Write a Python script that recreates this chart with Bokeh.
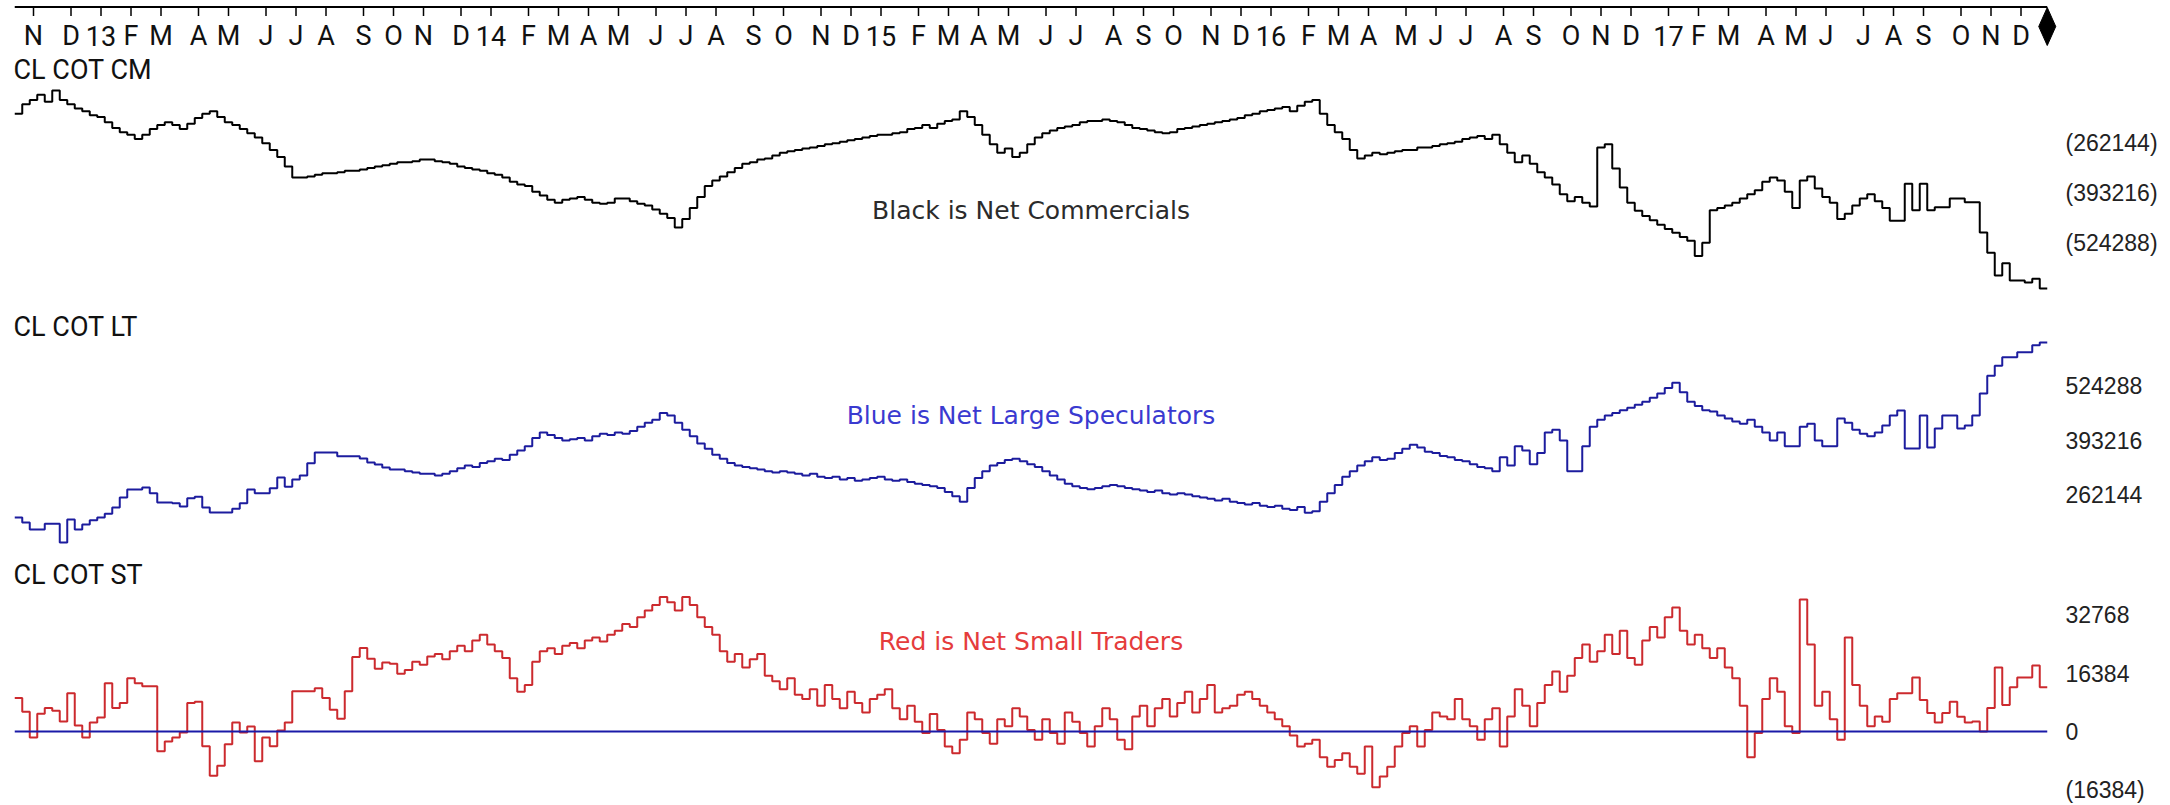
import numpy as np
import pandas as pd
from bokeh.plotting import figure
from bokeh.models import Range1d
from bokeh.core.properties import value
from bokeh.embed import file_html
from bokeh.resources import INLINE

# ---------------- data ----------------
first_week = "2012-10-19"          # weekly COT bars (Fridays)
n_weeks = 271

# net commercials, thousands of contracts
cm_net_k = [
    -187, -162, -151, -137, -155, -126, -151, -162, -173, -180,
    -191, -195, -209, -224, -235, -242, -253, -242, -227, -216,
    -209, -216, -227, -213, -198, -187, -180, -195, -209, -216,
    -227, -238, -249, -264, -282, -300, -325, -354, -354, -351,
    -347, -343, -343, -340, -336, -336, -333, -329, -325, -322,
    -318, -314, -314, -311, -307, -307, -311, -314, -318, -325,
    -329, -333, -336, -343, -347, -354, -365, -372, -376, -391,
    -401, -412, -420, -412, -409, -405, -412, -420, -423, -420,
    -409, -409, -416, -423, -427, -438, -449, -460, -485, -463,
    -434, -405, -376, -362, -351, -340, -329, -318, -314, -307,
    -304, -296, -289, -285, -282, -278, -275, -271, -267, -264,
    -260, -256, -253, -249, -245, -242, -242, -238, -235, -227,
    -224, -216, -224, -213, -206, -202, -180, -195, -216, -242,
    -267, -289, -278, -300, -289, -267, -249, -238, -231, -224,
    -220, -216, -209, -206, -206, -202, -206, -209, -216, -224,
    -227, -231, -235, -238, -235, -227, -224, -220, -216, -213,
    -209, -206, -202, -198, -191, -187, -180, -177, -173, -169,
    -180, -166, -155, -151, -187, -216, -235, -253, -282, -304,
    -296, -289, -293, -289, -285, -282, -282, -275, -275, -271,
    -267, -264, -260, -253, -249, -245, -253, -242, -267, -289,
    -314, -296, -318, -340, -354, -372, -398, -416, -405, -420,
    -430, -275, -267, -330, -380, -420, -441, -455, -466, -478,
    -489, -499, -510, -520, -560, -525, -440, -434, -427, -420,
    -409, -398, -387, -365, -354, -362, -391, -434, -362, -351,
    -383, -405, -420, -463, -449, -427, -409, -398, -416, -434,
    -467, -467, -370, -440, -370, -440, -432, -432, -409, -409,
    -419, -419, -498, -551, -611, -579, -624, -624, -629, -619, -645,
]

# net large speculators, thousands of contracts
lt_net_k = [
    207, 195, 178, 178, 192, 192, 147, 202, 178, 190,
    200, 207, 216, 231, 255, 274, 274, 279, 265, 243,
    243, 241, 233, 253, 257, 231, 219, 219, 219, 228,
    241, 274, 265, 265, 277, 303, 281, 298, 308, 337,
    363, 363, 363, 354, 354, 354, 349, 339, 334, 327,
    322, 322, 318, 315, 312, 312, 308, 312, 318, 325,
    332, 328, 338, 342, 348, 345, 358, 368, 378, 398,
    411, 405, 398, 392, 395, 398, 392, 402, 408, 405,
    411, 408, 415, 425, 435, 442, 458, 452, 435, 418,
    402, 385, 372, 358, 348, 338, 332, 328, 325, 322,
    318, 315, 318, 315, 312, 308, 312, 305, 302, 305,
    298, 302, 295, 298, 302, 305, 298, 295, 298, 292,
    288, 285, 282, 278, 268, 258, 245, 278, 302, 318,
    332, 338, 345, 348, 342, 335, 328, 318, 308, 298,
    288, 282, 278, 275, 278, 282, 285, 282, 278, 275,
    272, 268, 272, 265, 262, 265, 262, 258, 255, 252,
    248, 252, 245, 242, 238, 242, 235, 232, 235, 228,
    225, 232, 218, 222, 245, 265, 285, 305, 318, 332,
    342, 352, 345, 348, 362, 372, 382, 375, 365, 362,
    355, 352, 345, 342, 335, 328, 325, 318, 352, 332,
    378, 368, 335, 362, 411, 418, 392, 318, 318, 378,
    425, 442, 452, 458, 465, 471, 478, 485, 495, 505,
    518, 531, 508, 485, 475, 465, 462, 452, 445, 438,
    432, 442, 425, 411, 392, 411, 378, 378, 425, 432,
    392, 378, 378, 445, 435, 418, 408, 402, 411, 428,
    452, 464, 373, 373, 452, 375, 421, 452, 452, 421,
    428, 452, 505, 548, 572, 592, 592, 604, 604, 621, 628,
]

# net small traders, thousands of contracts
st_net_k = [
    9.4, 5.5, -1.7, 5.0, 6.6, 5.8, 2.8, 10.7, 1.7, -1.7,
    2.5, 3.9, 13.5, 6.6, 8.0, 14.9, 13.5, 12.7, 12.7, -5.5,
    -2.8, -1.7, -0.3, 8.0, 8.3, -4.1, -12.4, -9.6, -3.6, 2.5,
    -0.3, 1.4, -8.3, -1.7, -4.1, 0.3, 2.5, 11.3, 11.3, 11.3,
    12.1, 9.4, 6.1, 3.6, 11.3, 20.9, 23.4, 20.4, 17.6, 19.3,
    19.0, 16.2, 17.2, 19.5, 18.7, 21.0, 21.7, 20.2, 22.5, 24.0,
    22.5, 25.5, 27.1, 24.4, 22.5, 20.6, 14.9, 11.1, 13.0, 19.5,
    22.5, 23.3, 21.7, 24.0, 24.8, 23.3, 25.5, 26.3, 25.2, 27.1,
    28.2, 30.1, 29.3, 32.0, 33.9, 35.4, 37.7, 36.2, 33.9, 37.7,
    35.4, 32.0, 29.3, 27.1, 22.5, 19.5, 21.7, 17.9, 20.2, 21.7,
    15.6, 14.1, 11.8, 14.9, 10.3, 9.1, 11.8, 7.2, 13.0, 9.1,
    6.5, 11.1, 8.0, 5.3, 9.1, 10.3, 11.8, 6.5, 3.4, 7.2,
    2.7, -0.4, 4.9, 0.4, -4.2, -6.1, -2.3, 5.3, 3.4, -0.4,
    -3.4, 3.4, 1.5, 6.5, 4.2, 0.4, -2.3, 3.4, -0.4, -3.4,
    5.3, 2.7, -0.4, -4.2, 1.5, 6.5, 3.4, -2.3, -5.0, 4.2,
    7.2, 1.5, 6.5, 9.1, 4.2, 8.0, 11.1, 5.3, 9.1, 13.0,
    5.3, 6.5, 7.2, 10.3, 11.1, 9.1, 7.2, 5.3, 3.4, 1.5,
    -1.1, -4.2, -3.4, -2.3, -7.2, -9.9, -8.0, -6.1, -9.9, -11.8,
    -4.2, -15.6, -12.6, -9.9, -4.2, -0.4, 1.5, -4.2, 0.4, 5.3,
    4.2, 3.4, 9.1, 3.4, 1.5, -2.3, 3.4, 6.5, -4.2, 4.2,
    11.8, 7.2, 1.5, 8.0, 13.0, 16.8, 11.1, 15.6, 20.6, 24.4,
    19.5, 22.5, 27.1, 21.7, 28.2, 20.6, 18.7, 25.5, 29.3, 26.3,
    32.0, 34.7, 28.2, 24.4, 27.1, 23.3, 20.6, 23.3, 17.9, 14.9,
    7.2, -7.2, -0.4, 9.1, 14.9, 11.1, 1.5, -0.4, 37.0, 24.4,
    7.2, 11.1, 3.4, -2.3, 26.3, 13.0, 7.2, 1.5, 4.2, 2.7,
    9.1, 10.7, 10.7, 15.1, 8.8, 5.2, 2.5, 5.2, 8.3, 4.1,
    2.5, 2.8, 0.0, 6.6, 17.9, 7.4, 12.4, 15.1, 15.1, 18.5, 12.4,
]

cm_ticks = [-262144, -393216, -524288]
lt_ticks = [524288, 393216, 262144]
st_ticks = [32768, 16384, 0, -16384]

titles = ["CL COT CM", "CL COT LT", "CL COT ST"]
notes = ["Black is Net Commercials", "Blue is Net Large Speculators", "Red is Net Small Traders"]
month_letters = "JFMAMJJASOND"

# ---------------- layout / style (pixels of the 2170x805 canvas) ----------------
W, H = 2170, 805
PX_PER_WEEK = 7.5
FIRST_BAR_PX = 18          # x pixel of the first weekly bar centre
AX_FONT = value("Roboto")
NOTE_FONT = value("DejaVu Sans")
LAB_FONT = value("Liberation Sans")

dates = pd.date_range(first_week, periods=n_weeks, freq="7D")
x_ms = ((dates - pd.Timestamp("1970-01-01")) // pd.Timedelta("1ms")).to_numpy().astype(float)
week_ms = 7 * 86400000.0
edges = np.append(x_ms - week_ms / 2, x_ms[-1] + week_ms / 2)
mid_x = (edges[0] + edges[-1]) / 2
px_ms = week_ms / PX_PER_WEEK          # data units per pixel along x


def x_at(px):
    return x_ms[0] + (px - FIRST_BAR_PX) * px_ms


# month ticks at the first bar of each month
months = dates.to_period("M")
first_idx = [i for i in range(1, n_weeks) if months[i] != months[i - 1]]
tick_x = x_ms[first_idx]
tick_lab = [
    f"{dates[i].year % 100:02d}" if dates[i].month == 1 else month_letters[dates[i].month - 1]
    for i in first_idx
]

p = figure(
    frame_width=W, frame_height=H,
    x_range=Range1d(x_at(0), x_at(W)), y_range=Range1d(H, 0),   # default y: pixels from top
    x_axis_location=None, y_axis_location=None,
    toolbar_location=None, output_backend="svg",
    min_border=0, background_fill_color="white", border_fill_color="white",
)
p.outline_line_color = None
p.grid.visible = False

# ---- top time axis ----
LINE_Y, TICK_LEN, LAB_Y, DIAM_Y, DIAM_HW, DIAM_HH = 6.5, 9, 35, 26, 8.5, 19
n_t = len(tick_x)
p.line(x=[edges[0], edges[-1]], y=[LINE_Y, LINE_Y], line_color="black", line_width=2)
p.segment(x0=tick_x, y0=[LINE_Y] * n_t, x1=tick_x, y1=[LINE_Y + TICK_LEN] * n_t,
          line_color="black", line_width=1.5)
p.text(x=tick_x, y=[LAB_Y] * n_t, text=tick_lab, text_font=AX_FONT, text_font_size="27px",
       text_align="center", text_baseline="middle", text_color="#111111")
# end-of-data marker (narrow diamond at the last bar)
end_x = edges[-1]
p.patch(x=[end_x - DIAM_HW * px_ms, end_x, end_x + DIAM_HW * px_ms, end_x],
        y=[DIAM_Y, DIAM_Y - DIAM_HH, DIAM_Y, DIAM_Y + DIAM_HH],
        fill_color="black", line_color="black")

# ---- panels ----
panels = [
    # name, values(k), anchor value, anchor px, units/px, ticks, line col, note col, title y, note y
    ("cm", cm_net_k, -262144, 142, 131072 / 50, cm_ticks, "#000000", "#2b2b2b", 69, 210),
    ("lt", lt_net_k, 262144, 494, 262144 / 109, lt_ticks, "#1c1c9e", "#3a3ad0", 326, 415),
    ("st", st_net_k, 0, 731, 16384 / 58.5, st_ticks, "#cc2a2e", "#e53c3c", 574, 641),
]

for k, (name, vals, anchor_v, anchor_px, upp, ticks, col, tcol, title_y, note_y) in enumerate(panels):
    p.extra_y_ranges[name] = Range1d(anchor_v - (H - anchor_px) * upp, anchor_v + anchor_px * upp)
    v = np.asarray(vals, dtype=float) * 1000.0
    p.step(x=edges, y=np.append(v, v[-1]), mode="after", line_color=col, line_width=2,
           y_range_name=name)
    if name == "st":
        p.line(x=[edges[0], edges[-1]], y=[0, 0], line_color="#1a1aa8", line_width=2,
               y_range_name=name)
    # right-hand value labels (negatives in parentheses)
    p.text(x=[x_at(2065)] * len(ticks), y=ticks,
           text=[f"({abs(t)})" if t < 0 else str(t) for t in ticks],
           text_font=LAB_FONT, text_font_size="23px", text_align="left",
           text_baseline="middle", text_color="#222222", y_range_name=name)
    # panel title and centred note
    p.text(x=[x_at(13)], y=[title_y], text=[titles[k]], text_font=AX_FONT, text_font_size="27px",
           text_align="left", text_baseline="middle", text_color="#111111")
    p.text(x=[mid_x], y=[note_y], text=[notes[k]], text_font=NOTE_FONT, text_font_size="25px",
           text_align="center", text_baseline="middle", text_color=tcol)

open("out.html", "w").write(file_html(p, INLINE))
